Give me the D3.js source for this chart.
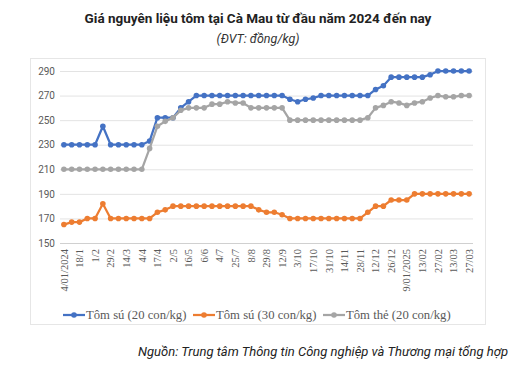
<!DOCTYPE html>
<html>
<head>
<meta charset="utf-8">
<script src="https://cdn.jsdelivr.net/npm/d3@7"></script>
<style>
  body { margin: 0; background: #fff; }
  svg { display: block; }
</style>
</head>
<body>
<svg width="522" height="367"></svg>
<script>
;(function (d3) {
  // tick labels, one for every second data point
  var tickLabels = ['4/01/2024', '18/1', '1/2', '29/2', '14/3', '4/4', '17/4', '2/5', '16/5',
    '6/6', '4/7', '25/7', '8/8', '29/8', '12/9', '3/10', '17/10', '31/10', '14/11', '28/11',
    '12/12', '26/12', '9/01/2025', '13/02', '27/02', '13/03', '27/03']

  var su20 = [230, 230, 230, 230, 230, 245, 230, 230, 230, 230, 230, 233, 252, 252, 252, 260,
    265, 270, 270, 270, 270, 270, 270, 270, 270, 270, 270, 270, 270, 267, 265, 267, 268,
    270, 270, 270, 270, 270, 270, 270, 275, 278, 285, 285, 285, 285, 285, 287, 290, 290,
    290, 290, 290]

  var su30 = [165, 167, 167, 170, 170, 182, 170, 170, 170, 170, 170, 170, 175, 177, 180, 180,
    180, 180, 180, 180, 180, 180, 180, 180, 180, 177, 175, 175, 173, 170, 170, 170, 170,
    170, 170, 170, 170, 170, 170, 175, 180, 180, 185, 185, 185, 190, 190, 190, 190, 190,
    190, 190, 190]

  var the20 = [210, 210, 210, 210, 210, 210, 210, 210, 210, 210, 210, 227, 245, 249, 252, 258,
    260, 260, 260, 263, 263, 265, 264, 264, 260, 260, 260, 260, 260, 250, 250, 250, 250,
    250, 250, 250, 250, 250, 250, 252, 260, 262, 265, 264, 262, 264, 265, 268, 270, 269,
    269, 270, 270]

  var seriesNames = ['Tôm sú (20 con/kg)', 'Tôm sú (30 con/kg)', 'Tôm thẻ (20 con/kg)']
  var seriesColors = ['#4472c4', '#ed7d31', '#a5a5a5']
  var yTicks = [150, 170, 190, 210, 230, 250, 270, 290]

  var series = [su20, su30, the20]
  var svg = d3.select('svg')

  // title block
  svg.append('text')
    .attr('x', 258).attr('y', 23)
    .attr('text-anchor', 'middle')
    .style('font-family', 'Roboto, sans-serif')
    .style('font-weight', 'bold')
    .style('font-size', '13.5px')
    .style('fill', '#222')
    .text('Giá nguyên liệu tôm tại Cà Mau từ đầu năm 2024 đến nay')

  svg.append('text')
    .attr('x', 258).attr('y', 43)
    .attr('text-anchor', 'middle')
    .style('font-family', 'Roboto, sans-serif')
    .style('font-style', 'italic')
    .style('font-size', '12.5px')
    .style('fill', '#333')
    .text('(ĐVT: đồng/kg)')

  // chart frame
  svg.append('rect')
    .attr('x', 30.5).attr('y', 58.5)
    .attr('width', 455).attr('height', 266)
    .style('fill', '#fff')
    .style('stroke', '#e6e6e6')

  var left = 60
  var right = 473
  var top = 71
  var bottom = 243

  var x = d3.scaleBand()
    .domain(d3.range(su20.length))
    .range([left, right])
    .padding(0)

  var cx = function (i) { return x(i) + x.bandwidth() / 2 }

  var y = d3.scaleLinear()
    .domain([150, 290])
    .range([bottom, top])

  // grid + y labels
  var yAxis = svg.append('g')
    .attr('transform', 'translate(' + left + ',0)')
    .call(d3.axisLeft(y).tickValues(yTicks).tickSize(-(right - left)).tickPadding(5))
  yAxis.select('.domain').remove()
  yAxis.selectAll('line')
    .style('stroke', function (d) { return d === 150 ? '#d0d0d0' : '#e3e3e3' })
  yAxis.selectAll('text')
    .style('font-family', 'Roboto, sans-serif')
    .style('font-size', '10px')
    .style('fill', '#595959')

  // x labels, every second point
  var xAxis = svg.append('g')
    .attr('transform', 'translate(0,' + bottom + ')')
    .call(d3.axisBottom(x)
      .tickValues(d3.range(0, su20.length, 2))
      .tickSize(0)
      .tickFormat(function (d) { return tickLabels[d / 2] }))
  xAxis.select('.domain').remove()
  xAxis.selectAll('text')
    .attr('transform', 'rotate(-90)')
    .attr('text-anchor', 'end')
    .attr('x', -6)
    .attr('y', 0)
    .attr('dy', '0.35em')
    .style('font-family', '"Liberation Serif", serif')
    .style('font-size', '10.5px')
    .style('fill', '#595959')

  var ln = d3.line()
    .x(function (d, i) { return cx(i) })
    .y(function (d) { return y(d) })

  series.forEach(function (vals, k) {
    svg.append('path')
      .datum(vals)
      .attr('d', ln)
      .style('fill', 'none')
      .style('stroke', seriesColors[k])
      .style('stroke-width', 2.25)
      .style('stroke-linejoin', 'round')

    svg.append('g')
      .selectAll('circle')
      .data(vals)
      .enter()
      .append('circle')
      .attr('cx', function (d, i) { return cx(i) })
      .attr('cy', function (d) { return y(d) })
      .attr('r', 2.8)
      .style('fill', seriesColors[k])
  })

  // legend
  var legendX = [63, 193, 323]
  var lg = svg.append('g')
    .selectAll('g')
    .data(seriesNames)
    .enter()
    .append('g')
    .attr('transform', function (d, i) { return 'translate(' + legendX[i] + ',315)' })

  lg.append('line')
    .attr('x1', 0).attr('x2', 22)
    .style('stroke', function (d, i) { return seriesColors[i] })
    .style('stroke-width', 2.25)
  lg.append('circle')
    .attr('cx', 11).attr('r', 2.8)
    .style('fill', function (d, i) { return seriesColors[i] })
  lg.append('text')
    .attr('x', 23).attr('dy', '0.35em')
    .style('font-family', '"Liberation Serif", serif')
    .style('font-size', '12.7px')
    .style('fill', '#595959')
    .text(function (d) { return d })

  // source
  svg.append('text')
    .attr('x', 508).attr('y', 356)
    .attr('text-anchor', 'end')
    .style('font-family', 'Roboto, sans-serif')
    .style('font-style', 'italic')
    .style('font-size', '13px')
    .style('fill', '#222')
    .text('Nguồn: Trung tâm Thông tin Công nghiệp và Thương mại tổng hợp')
})(window.d3)
</script>
</body>
</html>
